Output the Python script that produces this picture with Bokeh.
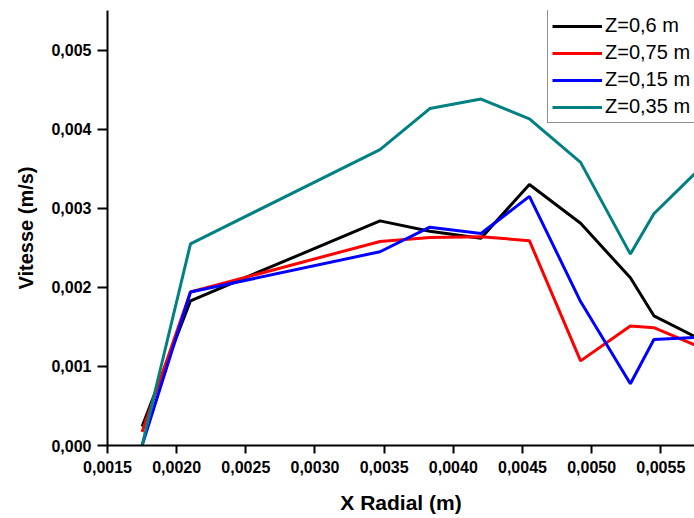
from bokeh.plotting import figure
from bokeh.models import FixedTicker, Range1d, Legend, LegendItem
from bokeh.embed import file_html
from bokeh.resources import INLINE

# Radial positions (m) and axial velocity profiles (m/s) at four heights Z
x_radial = [0.00175, 0.0021, 0.00347, 0.00383, 0.0042, 0.00455, 0.00492, 0.00528, 0.00545, 0.0058]
v_z060 = [0.00024, 0.00183, 0.00284, 0.00271, 0.00262, 0.00330, 0.00281, 0.00212, 0.00164, 0.00133]
v_z075 = [0.00017, 0.00194, 0.00258, 0.00263, 0.00264, 0.00259, 0.00107, 0.00151, 0.00149, 0.00123]
v_z015 = [0.0, 0.00194, 0.00245, 0.00276, 0.00268, 0.00315, 0.00182, 0.00078, 0.00134, 0.00137]
v_z035 = [0.0, 0.00255, 0.00374, 0.00426, 0.00438, 0.00413, 0.00358, 0.00242, 0.00293, 0.00353]

series_labels = ["Z=0,6 m", "Z=0,75 m", "Z=0,15 m", "Z=0,35 m"]
series_colors = ["#000000", "#ff0000", "#0000ff", "#008080"]

x_ticks = [0.0015, 0.002, 0.0025, 0.003, 0.0035, 0.004, 0.0045, 0.005, 0.0055]
x_tick_labels = ["0,0015", "0,0020", "0,0025", "0,0030", "0,0035", "0,0040", "0,0045", "0,0050", "0,0055"]
y_ticks = [0.0, 0.001, 0.002, 0.003, 0.004, 0.005]
y_tick_labels = ["0,000", "0,001", "0,002", "0,003", "0,004", "0,005"]

FONT = "Liberation Sans"

p = figure(
    width=694, height=518,
    output_backend="svg", toolbar_location=None,
    x_range=Range1d(0.0015, 0.0057435),
    y_range=Range1d(0.0, 0.0055),
    min_border_left=107, min_border_right=0,
    min_border_top=10, min_border_bottom=73,
    x_axis_label="X Radial (m)", y_axis_label="Vitesse (m/s)",
)
p.outline_line_color = None
p.grid.visible = False
p.background_fill_color = "white"
p.border_fill_color = "white"

series = [v_z060, v_z075, v_z015, v_z035]
renderers = []
for vals, col in zip(series, series_colors):
    r = p.line(x_radial, vals, line_color=col, line_width=3)
    renderers.append(r)

p.xaxis.ticker = FixedTicker(ticks=x_ticks, minor_ticks=[])
p.yaxis.ticker = FixedTicker(ticks=y_ticks, minor_ticks=[])
p.xaxis.major_label_overrides = dict(zip(x_ticks, x_tick_labels))
p.yaxis.major_label_overrides = dict(zip(y_ticks, y_tick_labels))

for ax in (p.xaxis, p.yaxis):
    ax.axis_line_width = 2
    ax.axis_line_color = "black"
    ax.major_tick_line_width = 2
    ax.major_tick_line_color = "black"
    ax.major_tick_in = 0
    ax.minor_tick_line_color = None
    ax.major_label_text_font = FONT
    ax.major_label_text_font_style = "bold"
    ax.major_label_text_font_size = "16px"
    ax.major_label_text_color = "black"
    ax.axis_label_text_font = FONT
    ax.axis_label_text_font_style = "bold"
    ax.axis_label_text_color = "black"

p.xaxis.major_tick_out = 8
p.yaxis.major_tick_out = 10
p.xaxis.major_label_standoff = 7
p.yaxis.major_label_standoff = 6
p.xaxis.axis_label_text_font_size = "21px"
p.yaxis.axis_label_text_font_size = "20px"
p.xaxis.axis_label_standoff = 15
p.yaxis.axis_label_standoff = 11

legend = Legend(
    items=[LegendItem(label=lab, renderers=[r]) for lab, r in zip(series_labels, renderers)],
    location=(440, 322),
    margin=0, padding=4, spacing=4,
    glyph_width=50, glyph_height=22, label_height=22, label_standoff=3,
    label_text_font=FONT, label_text_font_size="20px", label_text_color="black",
    border_line_color="#202020", border_line_width=1,
    background_fill_color="white", background_fill_alpha=1.0,
)
p.add_layout(legend)

open("out.html", "w").write(file_html(p, INLINE))
